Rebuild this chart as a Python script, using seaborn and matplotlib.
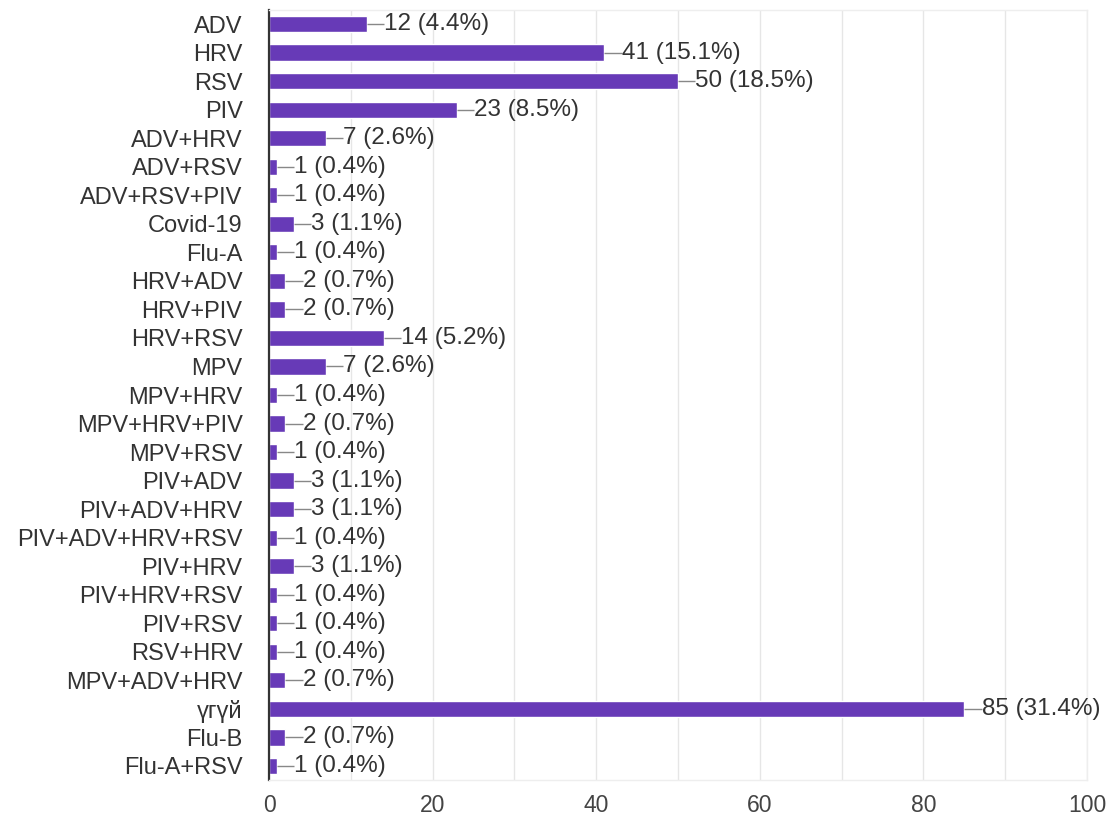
import matplotlib
matplotlib.use("Agg")
import matplotlib.pyplot as plt
import seaborn as sns
import pandas as pd

categories = ["ADV", "HRV", "RSV", "PIV", "ADV+HRV", "ADV+RSV", "ADV+RSV+PIV",
              "Covid-19", "Flu-A", "HRV+ADV", "HRV+PIV", "HRV+RSV", "MPV",
              "MPV+HRV", "MPV+HRV+PIV", "MPV+RSV", "PIV+ADV", "PIV+ADV+HRV",
              "PIV+ADV+HRV+RSV", "PIV+HRV", "PIV+HRV+RSV", "PIV+RSV", "RSV+HRV",
              "MPV+ADV+HRV", "үгүй", "Flu-B", "Flu-A+RSV"]
counts = [12, 41, 50, 23, 7, 1, 1, 3, 1, 2, 2, 14, 7, 1, 2, 1, 3, 3, 1, 3, 1, 1, 1, 2, 85, 2, 1]
percents = ["4.4%", "15.1%", "18.5%", "8.5%", "2.6%", "0.4%", "0.4%", "1.1%", "0.4%",
            "0.7%", "0.7%", "5.2%", "2.6%", "0.4%", "0.7%", "0.4%", "1.1%", "1.1%",
            "0.4%", "1.1%", "0.4%", "0.4%", "0.4%", "0.7%", "31.4%", "0.7%", "0.4%"]
x_ticks = [0, 20, 40, 60, 80, 100]

sns.set_theme(style="white")
plt.rcParams['font.family'] = ['Liberation Sans', 'DejaVu Sans']

df = pd.DataFrame({"category": categories, "count": counts})

fig = plt.figure(figsize=(11.07, 8.17), dpi=100)
ax = fig.add_axes([0.243, 0.045, 0.739, 0.943])

sns.barplot(data=df, y="category", x="count", orient="h", color="#673ab7",
            saturation=1, width=0.57, ax=ax)

ax.set_xlim(0, 100)
ax.set_ylim(len(categories) - 0.5, -0.5)
ax.set_xticks(x_ticks)
ax.set_xticks(range(10, 100, 20), minor=True)
ax.grid(True, axis="x", which="both", color="#e6e6e6", linewidth=1)
ax.set_axisbelow(True)
ax.set_xlabel("")
ax.set_ylabel("")

ax.tick_params(axis="y", length=0, labelsize=17, labelcolor="#333333", pad=19)
ax.tick_params(axis="x", which="both", length=0, labelsize=16.5, labelcolor="#444444", pad=10)

for s in ["top", "right", "bottom"]:
    ax.spines[s].set_color("#eeeeee")
    ax.spines[s].set_linewidth(1)
ax.spines["left"].set_color("#333333")
ax.spines["left"].set_linewidth(1.6)

for i, (c, p) in enumerate(zip(counts, percents)):
    ax.plot([c, c + 2.1], [i, i], color="#888888", linewidth=1, solid_capstyle="butt")
    ax.text(c + 2.1, i, f"{c} ({p})", va="center", ha="left", fontsize=17.5, color="#333333")

fig.savefig("out.png", dpi=100, facecolor="white")
